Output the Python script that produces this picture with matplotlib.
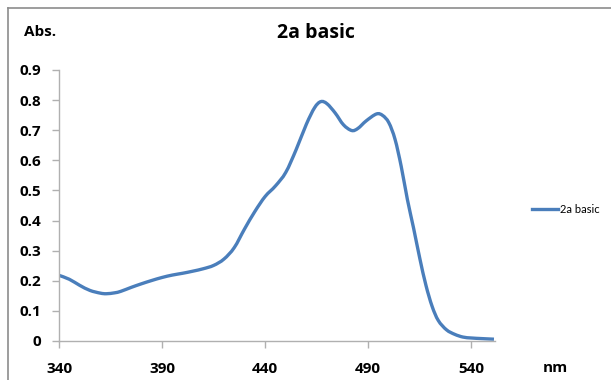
import matplotlib.pyplot as plt
from matplotlib.lines import Line2D
from matplotlib.path import Path
from matplotlib.patches import PathPatch

# espectro de absorcion del compuesto 2a en medio basico
longitud = [340, 345, 350, 355, 360, 363, 367, 370, 375, 380, 385, 390, 395, 400,
            405, 410, 415, 420, 425, 430, 435, 440, 445, 450, 455, 460, 464, 467,
            470, 474, 478, 482, 485, 489, 494, 497, 500, 503, 506, 509, 512, 515,
            518, 521, 524, 528, 532, 536, 540, 545, 551]
absorbancia = [0.218, 0.205, 0.185, 0.168, 0.159, 0.157, 0.160, 0.165, 0.178, 0.190,
               0.201, 0.211, 0.219, 0.225, 0.232, 0.240, 0.251, 0.272, 0.310, 0.372,
               0.430, 0.480, 0.515, 0.560, 0.635, 0.720, 0.775, 0.795, 0.788, 0.757,
               0.718, 0.699, 0.706, 0.731, 0.754, 0.749, 0.725, 0.670, 0.580, 0.470,
               0.375, 0.275, 0.185, 0.115, 0.068, 0.037, 0.022, 0.013, 0.010, 0.008,
               0.006]
ticks_x = [340, 390, 440, 490, 540]
ticks_y = [0, 0.1, 0.2, 0.3, 0.4, 0.5, 0.6, 0.7, 0.8, 0.9]

AZUL = '#4a7ebb'
GRIS = '#b0b0b0'
NEGRITA = dict(family=['Open Sans', 'DejaVu Sans'], fontweight='bold', fontsize=11)

plt.rcParams['font.family'] = ['Lato', 'DejaVu Sans']


def linea_suavizada(xs, ys):
    # curva de Bezier que pasa por todos los puntos (tipo linea suavizada de Excel)
    pts = list(zip(xs, ys))
    verts = [pts[0]]
    codes = [Path.MOVETO]
    n = len(pts)
    for i in range(n - 1):
        p0 = pts[max(i - 1, 0)]
        p1 = pts[i]
        p2 = pts[i + 1]
        p3 = pts[min(i + 2, n - 1)]
        c1 = (p1[0] + (p2[0] - p0[0]) / 6, p1[1] + (p2[1] - p0[1]) / 6)
        c2 = (p2[0] - (p3[0] - p1[0]) / 6, p2[1] - (p3[1] - p1[1]) / 6)
        verts += [c1, c2, p2]
        codes += [Path.CURVE4] * 3
    return Path(verts, codes)


fig = plt.figure(figsize=(6.11, 3.8), dpi=100)
ax = fig.add_axes([59/611, 39/380, 436/611, 271/380])

ax.add_patch(PathPatch(linea_suavizada(longitud, absorbancia), fill=False,
                       edgecolor=AZUL, linewidth=2.4, capstyle='butt'))

ax.set_xlim(340, 551.5)
ax.set_ylim(0, 0.9)
ax.set_xticks(ticks_x)
ax.set_xticklabels([str(v) for v in ticks_x], **NEGRITA)
ax.set_yticks(ticks_y)
ax.set_yticklabels(['0' if v == 0 else '%.1f' % v for v in ticks_y], **NEGRITA)

for lado in ['top', 'right']:
    ax.spines[lado].set_visible(False)
for lado in ['left', 'bottom']:
    ax.spines[lado].set_color(GRIS)
    ax.spines[lado].set_linewidth(1)
ax.tick_params(axis='y', length=5, width=1, color=GRIS, pad=8)
ax.tick_params(axis='x', length=5, width=1, color=GRIS, pad=10)

fig.text(316/611, 1 - 33/380, '2a basic', ha='center', va='center',
         family=['Open Sans', 'DejaVu Sans'], fontsize=14, fontweight='bold')
fig.text(24/611, 1 - 32/380, 'Abs.', ha='left', va='center', **NEGRITA)
fig.text(555/611, 1 - 368/380, 'nm', ha='center', va='center', **NEGRITA)

ax.legend(handles=[Line2D([], [], color=AZUL, linewidth=2.4, label='2a basic')],
          loc='center left', bbox_to_anchor=(522/611, 1 - 209/380),
          bbox_transform=fig.transFigure, frameon=False, fontsize=8,
          handlelength=2.3, handletextpad=0.2)

# marco gris del area del grafico
fig.add_artist(Line2D([8/611, 8/611], [0, 1 - 8/380], color='#8c8c8c', linewidth=1.2))
fig.add_artist(Line2D([8/611, 1], [1 - 8/380, 1 - 8/380], color='#8c8c8c', linewidth=1.2))

fig.savefig('out.png', dpi=100)
